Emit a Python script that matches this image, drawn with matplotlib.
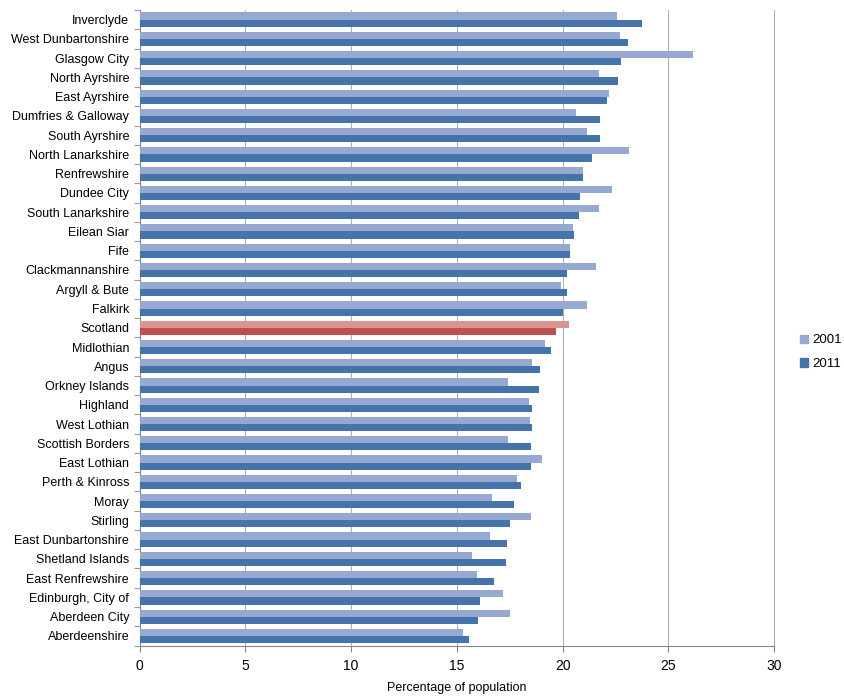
import numpy as np
import matplotlib
matplotlib.use('Agg')
import matplotlib.pyplot as plt
from matplotlib.patches import Patch

plt.rcParams['font.family'] = ['Liberation Sans', 'DejaVu Sans']

# Council areas, top to bottom
areas = [
    'Inverclyde', 'West Dunbartonshire', 'Glasgow City', 'North Ayrshire',
    'East Ayrshire', 'Dumfries & Galloway', 'South Ayrshire', 'North Lanarkshire',
    'Renfrewshire', 'Dundee City', 'South Lanarkshire', 'Eilean Siar', 'Fife',
    'Clackmannanshire', 'Argyll & Bute', 'Falkirk', 'Scotland', 'Midlothian',
    'Angus', 'Orkney Islands', 'Highland', 'West Lothian', 'Scottish Borders',
    'East Lothian', 'Perth & Kinross', 'Moray', 'Stirling', 'East Dunbartonshire',
    'Shetland Islands', 'East Renfrewshire', 'Edinburgh, City of',
    'Aberdeen City', 'Aberdeenshire',
]

pct_2001 = [
    22.58, 22.71, 26.15, 21.71, 22.19, 20.62, 21.17, 23.12, 20.98, 22.31,
    21.70, 20.51, 20.35, 21.59, 19.92, 21.17, 20.30, 19.18, 18.56, 17.42,
    18.42, 18.45, 17.42, 19.01, 17.83, 16.66, 18.50, 16.55, 15.71, 15.94,
    17.17, 17.52, 15.29,
]

pct_2011 = [
    23.75, 23.07, 22.74, 22.60, 22.09, 21.78, 21.78, 21.40, 20.95, 20.84,
    20.79, 20.54, 20.35, 20.22, 20.21, 20.02, 19.67, 19.45, 18.95, 18.88,
    18.56, 18.55, 18.50, 18.50, 18.04, 17.71, 17.52, 17.38, 17.30, 16.76,
    16.09, 15.98, 15.56,
]

c01 = '#95A9D1'
c11 = '#4674AA'
c01_sc = '#D99594'
c11_sc = '#C0504D'

fig = plt.figure(figsize=(8.44, 6.99), dpi=100)
ax = fig.add_axes([0.1653, 0.0765, 0.752, 0.9092])

y = np.arange(len(areas))
h = 0.37
cols01 = [c01_sc if a == 'Scotland' else c01 for a in areas]
cols11 = [c11_sc if a == 'Scotland' else c11 for a in areas]
ax.barh(y - h / 2, pct_2001, height=h, color=cols01, zorder=3)
ax.barh(y + h / 2, pct_2011, height=h, color=cols11, zorder=3)

ax.set_xlim(0, 30)
ax.set_ylim(len(areas) - 0.5, -0.5)
ax.set_xticks(range(0, 31, 5))
ax.set_yticks(y)
ax.set_yticklabels(areas, fontsize=9)
ax.set_yticks(np.arange(len(areas) + 1) - 0.5, minor=True)
ax.tick_params(axis='y', which='major', length=0, pad=7.5)
ax.tick_params(axis='y', which='minor', length=4, color='#868686')
ax.tick_params(axis='x', length=4, color='#868686', labelsize=10, pad=6)
ax.xaxis.grid(True, color='#B0B0B0', linewidth=0.75, zorder=0)
for gl in ax.get_xgridlines():
    gl.set_clip_on(False)
for s in ['top', 'right']:
    ax.spines[s].set_visible(False)
for s in ['left', 'bottom']:
    ax.spines[s].set_color('#868686')
ax.set_xlabel('Percentage of population', fontsize=9, labelpad=6)

handles = [Patch(color=c01, label='2001'), Patch(color=c11, label='2011')]
fig.legend(handles=handles, loc='center left', bbox_to_anchor=(0.948, 0.496),
           frameon=False, fontsize=9.5, handlelength=0.6, handleheight=0.6,
           handletextpad=0.3, labelspacing=0.9, borderpad=0, borderaxespad=0)

fig.savefig('out.png', dpi=100)
